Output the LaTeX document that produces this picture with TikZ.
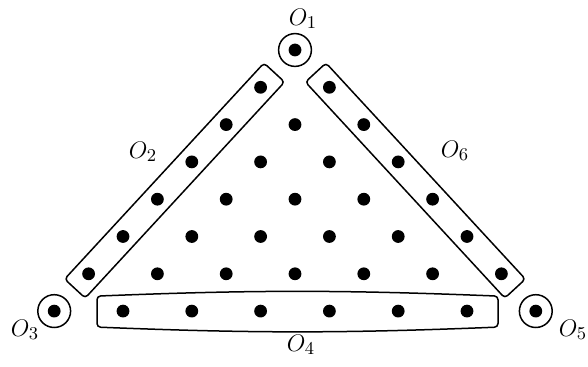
\documentclass[tikz,border=0pt]{standalone}
\usetikzlibrary{calc}
\tikzset{
  dot/.style={circle,fill=black,inner sep=0pt,minimum size=6.4pt},
  ring/.style={circle,draw,inner sep=0pt,minimum size=16.4pt},
  strip/.style={draw,rounded corners=1.8pt,inner sep=0pt,minimum width=147pt,minimum height=14pt},
  lab/.style={font=\fontsize{13}{15}\selectfont,inner sep=0pt},
}
\begin{document}
\begin{tikzpicture}[x=0.5pt,y=-0.5pt,line width=0.75pt]
\def\dx{34.4}
\def\dy{37.3}
\useasboundingbox (0,0) rectangle (588,367);
% the triangular array of points
\foreach \k in {0,...,7}
  \foreach \j in {0,...,\k}
    \node[dot] (p-\k-\j) at ({295+(2*\j-\k)*\dx},{50+\k*\dy}) {};
% single points at the corners
\node[ring] (r1) at (p-0-0) {};
\node[ring] (r3) at (p-7-0) {};
\node[ring] (r5) at (p-7-7) {};
% the two slanted sides
\node[strip,rotate=47.3] (s2) at ($(p-1-0)!0.5!(p-6-0)$) {};
\node[strip,rotate=-47.3] (s6) at ($(p-1-1)!0.5!(p-6-6)$) {};
% the bottom side
\draw[rounded corners=1.8pt] ($(p-7-1)+(-26,-15)$) to[bend left=2.3] ($(p-7-6)+(31,-15)$)
  -- ($(p-7-6)+(31,16)$) to[bend left=2.3] ($(p-7-1)+(-26,16)$) -- cycle;
% labels
\node[lab] (o1) at (303,19) {$O_1$};
\node[lab] (o2) at (143,152) {$O_2$};
\node[lab] (o3) at (25,330) {$O_3$};
\node[lab] (o4) at (301,345) {$O_4$};
\node[lab] (o5) at (573,330) {$O_5$};
\node[lab] (o6) at (455,151) {$O_6$};
\end{tikzpicture}
\end{document}
